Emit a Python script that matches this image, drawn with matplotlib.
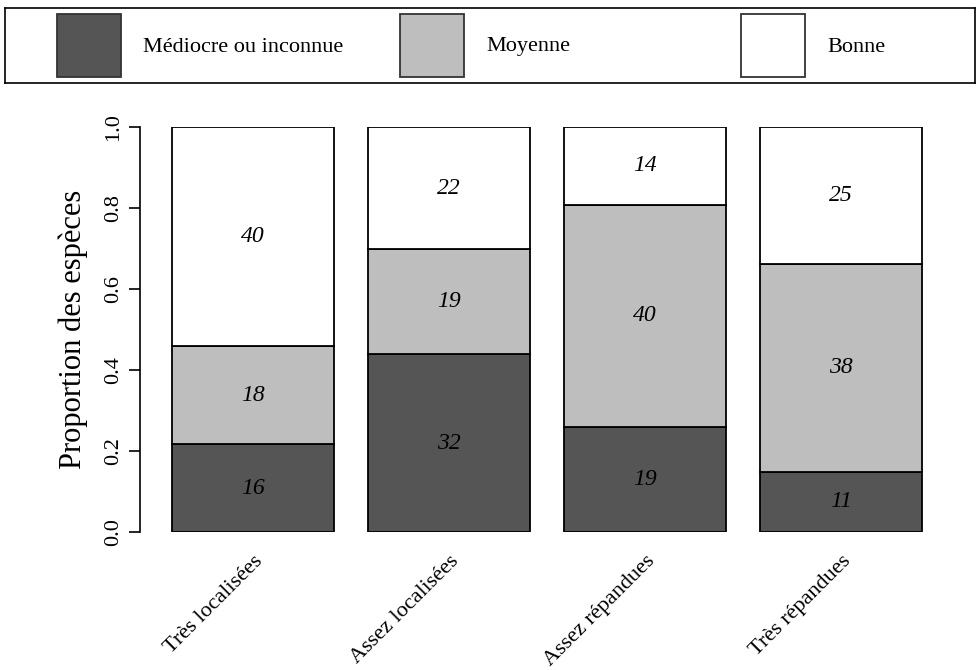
import numpy as np
import matplotlib.pyplot as plt
from matplotlib.patches import Rectangle

plt.rcParams['font.family'] = ['Liberation Serif', 'DejaVu Serif']

# donnees
classes = ['Très localisées', 'Assez localisées', 'Assez répandues', 'Très répandues']
qualite = ['Médiocre ou inconnue', 'Moyenne', 'Bonne']
mediocre = [16, 32, 19, 11]
moyenne = [18, 19, 40, 38]
bonne = [40, 22, 14, 25]
couleurs = ['#555555', '#bebebe', '#ffffff']

comptes = np.array([mediocre, moyenne, bonne], dtype=float)
props = comptes / comptes.sum(axis=0)

fig = plt.figure(figsize=(9.8, 6.7), dpi=100)
ax = fig.add_axes([140/980, (670-532)/670, 820/980, 405/670])

x = np.arange(len(classes))
bas = np.zeros(len(classes))
for i in range(3):
    ax.bar(x, props[i], bottom=bas, width=0.827, color=couleurs[i],
           edgecolor='black', linewidth=1.3)
    for j in range(len(classes)):
        ax.text(x[j], bas[j] + props[i][j] / 2, '%d' % comptes[i][j],
                ha='center', va='center', style='italic', fontsize=17)
    bas = bas + props[i]

ax.set_xlim(-113/196, (960-253)/196)
ax.set_ylim(0, 1)
for s in ['top', 'right', 'bottom']:
    ax.spines[s].set_visible(False)
ax.spines['left'].set_bounds(0, 1)
ax.spines['left'].set_linewidth(1.2)
ax.set_yticks([0, 0.2, 0.4, 0.6, 0.8, 1.0])
ax.set_yticklabels(['0.0', '0.2', '0.4', '0.6', '0.8', '1.0'], rotation=90, va='center', fontsize=16)
ax.tick_params(axis='y', length=8, width=1.2, pad=4)
ax.set_ylabel('Proportion des espèces', fontsize=22, labelpad=12)

ax.set_xticks(x)
ax.set_xticklabels(classes, rotation=45, ha='right', va='top', rotation_mode='anchor', fontsize=16)
ax.tick_params(axis='x', length=0, pad=14)

# legende
lax = fig.add_axes([5/980, (670-83)/670, 970/980, 75/670])
lax.set_xlim(0, 970)
lax.set_ylim(0, 75)
lax.set_xticks([])
lax.set_yticks([])
for s in lax.spines.values():
    s.set_linewidth(1.2)
px = [52, 395, 736]
for k in range(3):
    lax.add_patch(Rectangle((px[k], 6), 64, 63, facecolor=couleurs[k], edgecolor='#333333', linewidth=1.3))
    lax.text(px[k] + 86, 36, qualite[k], ha='left', va='center', fontsize=16)

fig.savefig('out.png', dpi=100)
